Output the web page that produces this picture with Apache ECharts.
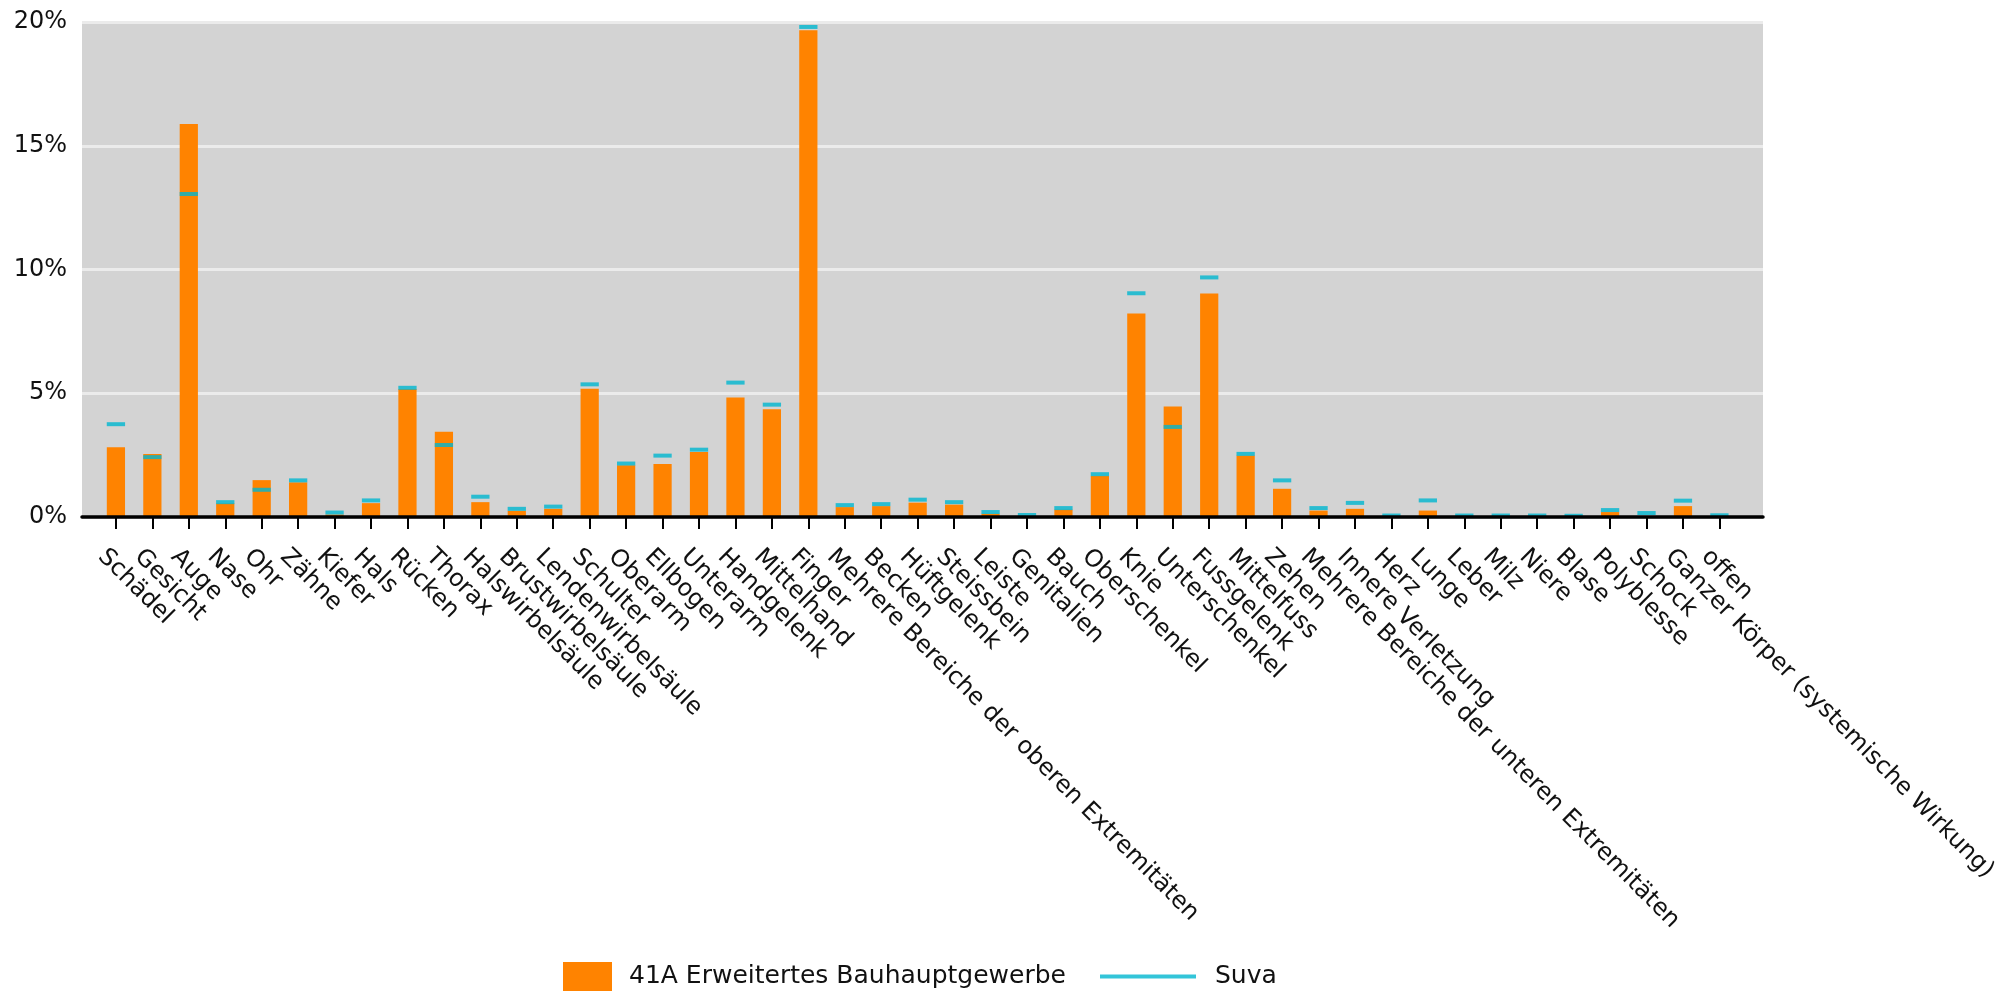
<!DOCTYPE html>
<html>
<head>
<meta charset="utf-8">
<script src="https://cdn.jsdelivr.net/npm/echarts@6/dist/echarts.min.js"></script>
<style>
html,body{margin:0;padding:0;background:#fff;}
#chart{width:2006px;height:991px;}
</style>
</head>
<body>
<div id="chart"></div>
<script>
const categories = ["Schädel","Gesicht","Auge","Nase","Ohr","Zähne","Kiefer","Hals","Rücken","Thorax","Halswirbelsäule","Brustwirbelsäule","Lendenwirbelsäule","Schulter","Oberarm","Ellbogen","Unterarm","Handgelenk","Mittelhand","Finger","Mehrere Bereiche der oberen Extremitäten","Becken","Hüftgelenk","Steissbein","Leiste","Genitalien","Bauch","Oberschenkel","Knie","Unterschenkel","Fussgelenk","Mittelfuss","Zehen","Mehrere Bereiche der unteren Extremitäten","Innere Verletzung","Herz","Lunge","Leber","Milz","Niere","Blase","Polyblesse","Schock","Ganzer Körper (systemische Wirkung)","offen"];
const seriesNames = ["41A Erweitertes Bauhauptgewerbe","Suva"];
const values41A = [2.82,2.55,15.88,0.55,1.49,1.40,0.10,0.56,5.17,3.44,0.60,0.25,0.33,5.18,2.09,2.14,2.63,4.83,4.35,19.67,0.40,0.44,0.58,0.50,0.13,0.02,0.30,1.66,8.22,4.46,9.03,2.48,1.14,0.26,0.33,0,0.26,0,0,0,0,0.20,0,0.44,0];
const valuesSuva = [3.75,2.42,13.05,0.60,1.10,1.48,0.18,0.67,5.22,2.91,0.82,0.33,0.42,5.36,2.16,2.48,2.72,5.43,4.54,19.80,0.48,0.52,0.70,0.60,0.20,0.08,0.36,1.73,9.04,3.64,9.68,2.55,1.48,0.36,0.57,0.06,0.67,0.06,0.06,0.06,0.05,0.28,0.16,0.66,0.07];
const yTicks = [0,5,10,15,20];

const FONT = 'DejaVu Sans';
const chart = echarts.init(document.getElementById('chart'));
chart.setOption({
  animation: false,
  textStyle: {fontFamily: FONT},
  grid: [
    {left: 82, right: 243, top: 22, bottom: 474, show: true, backgroundColor: '#d3d3d3', borderWidth: 0, containLabel: false},
    {left: 97.7, right: 258.6, top: 22, bottom: 474, containLabel: false}
  ],
  xAxis: [
    {gridIndex: 0, type: 'value', min: 0, max: 1, z: 10,
     axisLine: {show: true, onZero: false, lineStyle: {color: '#000', width: 3.5}},
     axisTick: {show: false}, axisLabel: {show: false}, splitLine: {show: false}},
    {gridIndex: 1, type: 'category', data: categories, boundaryGap: true,
     axisLine: {show: false},
     axisTick: {show: true, alignWithLabel: true, length: 12, lineStyle: {color: '#000', width: 2}},
     axisLabel: {interval: 0, rotate: -45, fontSize: 24, color: '#111', fontFamily: FONT,
                 margin: 22, verticalAlign: 'top', lineHeight: 40},
     splitLine: {show: false}}
  ],
  yAxis: [
    {gridIndex: 0, type: 'value', min: yTicks[0], max: yTicks[yTicks.length-1], interval: 5,
     axisLine: {show: false}, axisTick: {show: false},
     axisLabel: {formatter: '{value}%', fontSize: 24, color: '#111', fontFamily: FONT, margin: 15, padding: [6,0,0,0]},
     splitLine: {show: true, lineStyle: {color: '#ebebeb', width: 3}}},
    {gridIndex: 1, type: 'value', min: 0, max: 20, show: false, splitLine: {show: false}}
  ],
  legend: [
    {data: [seriesNames[0]], left: 563, top: 962, padding: 0, itemWidth: 49, itemHeight: 29, icon: 'rect',
     textStyle: {fontSize: 25, color: '#111', fontFamily: FONT, padding: [0,0,0,12], lineHeight: 29}},
    {data: [{name: seriesNames[1], icon: 'rect'}], left: 1100, top: 962, padding: 0, itemWidth: 96, itemHeight: 4,
     textStyle: {fontSize: 25, color: '#111', fontFamily: FONT, padding: [0,0,0,14], lineHeight: 29}}
  ],
  series: [
    {name: seriesNames[0], type: 'bar', xAxisIndex: 1, yAxisIndex: 1, data: values41A,
     barWidth: '50%', itemStyle: {color: '#ff8300'}, z: 2},
    {name: seriesNames[1], type: 'scatter', xAxisIndex: 1, yAxisIndex: 1, data: valuesSuva,
     symbol: 'rect', symbolSize: [18.3, 4], itemStyle: {color: '#00b7d0'}, z: 3}
  ]
});
</script>
</body>
</html>
